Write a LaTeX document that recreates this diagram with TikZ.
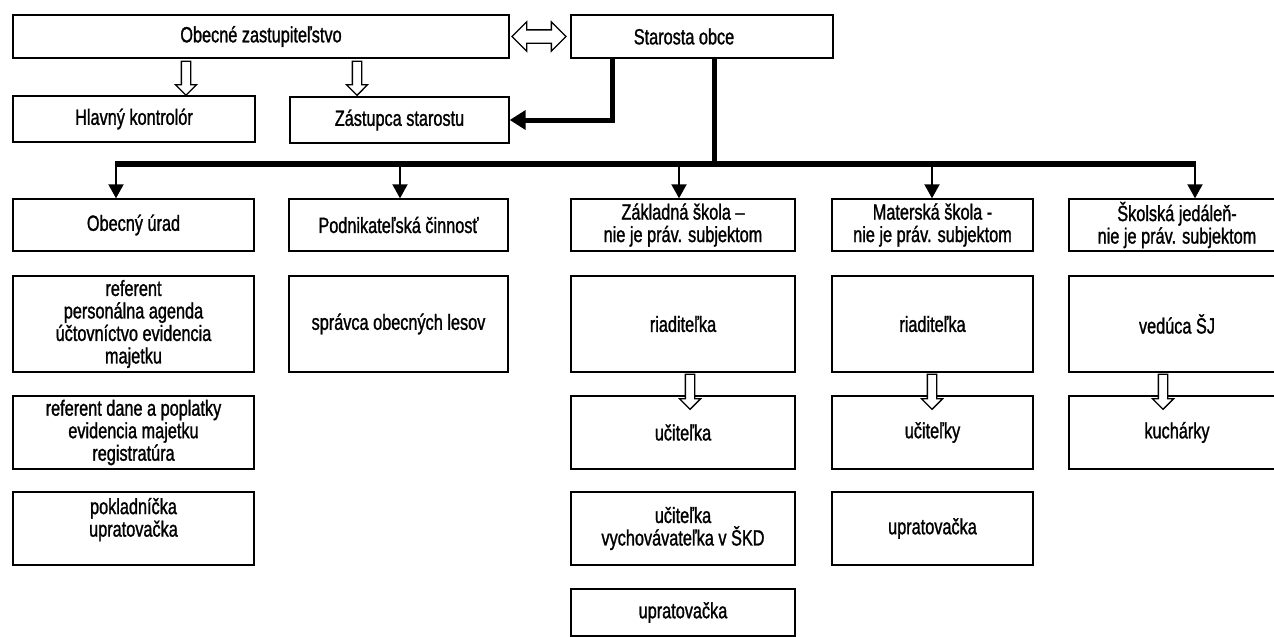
\documentclass[tikz,border=0pt]{standalone}
\usepackage{fontspec}
\setmainfont{Liberation Sans}[FakeStretch=0.74,FakeBold=1.2]
\usetikzlibrary{shapes.arrows,arrows.meta}
\begin{document}
\begin{tikzpicture}[x=1pt,y=-1pt,
  box/.style={draw, line width=1.4pt, align=center, inner sep=2pt, font=\fontsize{22}{22.5}\selectfont},
  hollow/.style={single arrow, draw, line width=1.3pt, fill=white, shape border rotate=270, inner sep=4pt, single arrow head extend=6pt, minimum height=35pt},
  dblarrow/.style={double arrow, draw, line width=1.3pt, fill=white, inner sep=6pt, double arrow head extend=8pt, minimum height=54pt},
  busline/.style={line width=6pt},
  thinarr/.style={line width=2pt, -{Triangle[length=14pt,width=15pt]}},
  thickarr/.style={line width=5pt, -{Triangle[length=16pt,width=19pt]}},
]
\useasboundingbox[fill=white] (0,0) rectangle (1274,637);

% top row
\node[box, minimum width=496pt, minimum height=43pt] (oz) at (261,36.5) {Obecné zastupiteľstvo};
\node[box, minimum width=262pt, minimum height=43pt] (so) at (702,36.5) {Starosta obce\hspace*{36pt}};
\node[dblarrow] (dz) at (539,36.5) {};

% second row
\node[box, minimum width=242pt, minimum height=46pt] (hk) at (134,119) {Hlavný kontrolór};
\node[box, minimum width=219pt, minimum height=46pt] (zs) at (399.5,120) {Zástupca starostu};

% row 1 of columns
\node[box, minimum width=241pt, minimum height=52pt] (c1r1) at (133.5,225) {Obecný úrad};
\node[box, minimum width=219pt, minimum height=52pt] (c2r1) at (398.5,225) {Podnikateľská činnosť};
\node[box, minimum width=224pt, minimum height=52pt] (c3r1) at (683,225) {Základná škola –\\nie je práv. subjektom};
\node[box, minimum width=201pt, minimum height=52pt] (c4r1) at (932.5,225) {Materská škola -\\nie je práv. subjektom};
\node[box, minimum width=216pt, minimum height=52pt] (c5r1) at (1177,225) {Školská jedáleň-\\nie je práv. subjektom};

% row 2
\node[box, minimum width=241pt, minimum height=96pt] (c1r2) at (133.5,324) {referent\\personálna agenda\\účtovníctvo evidencia\\majetku};
\node[box, minimum width=219pt, minimum height=96pt] (c2r2) at (398.5,324) {správca obecných lesov};
\node[box, minimum width=224pt, minimum height=96pt] (c3r2) at (683,324) {riaditeľka};
\node[box, minimum width=201pt, minimum height=96pt] (c4r2) at (932.5,324) {riaditeľka};
\node[box, minimum width=216pt, minimum height=96pt] (c5r2) at (1177,324) {vedúca ŠJ};

% row 3
\node[box, minimum width=241pt, minimum height=73pt] (c1r3) at (133.5,432.5) {referent dane a poplatky\\evidencia majetku\\registratúra};
\node[box, minimum width=224pt, minimum height=73pt] (c3r3) at (683,432.5) {učiteľka};
\node[box, minimum width=201pt, minimum height=73pt] (c4r3) at (932.5,432.5) {učiteľky};
\node[box, minimum width=216pt, minimum height=73pt] (c5r3) at (1177,432.5) {kuchárky};

% row 4
\node[box, minimum width=241pt, minimum height=73pt] (c1r4) at (133.5,528.5) {pokladníčka\\upratovačka\\\mbox{}};
\node[box, minimum width=224pt, minimum height=73pt] (c3r4) at (683,528.5) {učiteľka\\vychovávateľka v ŠKD};
\node[box, minimum width=201pt, minimum height=73pt] (c4r4) at (932.5,528.5) {upratovačka};

% row 5
\node[box, minimum width=224pt, minimum height=47pt] (c3r5) at (683,612.5) {upratovačka};

% hollow arrows from the council
\node[hollow, minimum height=34pt] (h1) at (186,76) {};
\node[hollow, minimum height=34pt] (h2) at (357,76) {};
% hollow arrows inside the columns
\node[hollow] (h3) at (690,389.5) {};
\node[hollow] (h4) at (932,389.5) {};
\node[hollow] (h5) at (1163,389.5) {};

% mayor to deputy
\draw[thickarr] (so.south -| 612,0) |- (zs.east);

% main bus
\coordinate (j) at (714,164);
\coordinate (b1) at (116,164);
\coordinate (b2) at (400,164);
\coordinate (b3) at (679,164);
\coordinate (b4) at (932,164);
\coordinate (b5) at (1195,164);
\draw[line width=5pt] (so.south -| j) -- (j);
\draw[busline] ([xshift=-1pt]b1) -- ([xshift=1pt]b5);
\draw[thinarr] (b1) -- (b1 |- c1r1.north);
\draw[thinarr] (b2) -- (b2 |- c2r1.north);
\draw[thinarr] (b3) -- (b3 |- c3r1.north);
\draw[thinarr] (b4) -- (b4 |- c4r1.north);
\draw[thinarr] (b5) -- (b5 |- c5r1.north);
\end{tikzpicture}
\end{document}
